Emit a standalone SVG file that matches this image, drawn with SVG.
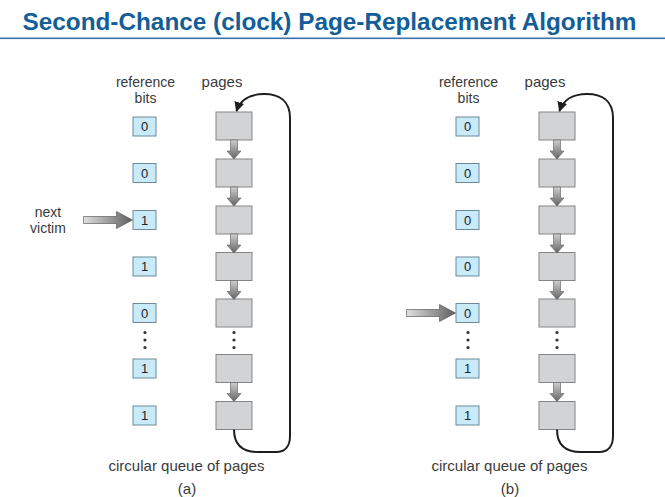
<svg xmlns="http://www.w3.org/2000/svg" width="665" height="497" viewBox="0 0 665 497">
<style>
.title{font-family:"Liberation Sans",Arial,sans-serif;font-weight:bold;font-size:23px;fill:#125e98}
.lbl{font-family:"Liberation Sans",Arial,sans-serif;font-size:15px;fill:#3a3a3a}
.sm{font-size:14px}
.bit{font-family:"Liberation Sans",Arial,sans-serif;font-size:13px;fill:#222;text-anchor:middle}
.ref{fill:#c8eaf9;stroke:#6d8a98;stroke-width:1}
.page{fill:#d2d3d4;stroke:#858585;stroke-width:1}
.loop{fill:none;stroke:#1e1e1e;stroke-width:2}
.dot{fill:#333}
.va{fill:url(#gv);stroke:#5a5a5a;stroke-width:0.6}
.ha{fill:url(#gh);stroke:#4a4a4a;stroke-width:0.6}
.mid{text-anchor:middle}
</style>
<defs>
<linearGradient id="gv" x1="0" y1="0" x2="0" y2="1">
<stop offset="0" stop-color="#cfcfcf"/><stop offset="1" stop-color="#636363"/>
</linearGradient>
<linearGradient id="gh" x1="0" y1="0" x2="1" y2="0">
<stop offset="0" stop-color="#e0e0e0"/><stop offset="1" stop-color="#5e5e5e"/>
</linearGradient>
<path id="varrow" class="va" d="M-3.5,0 h7 v11 h3.5 l-7,8 l-7,-8 h3.5 z"/>
<path id="harrow" class="ha" d="M0,-3.5 h33 v-5 l16,8.5 l-16,8.5 v-5 h-33 z"/>
<marker id="ah" viewBox="0 0 10 10" refX="9" refY="5" markerWidth="5" markerHeight="5" orient="auto" markerUnits="strokeWidth">
<path d="M0,0 L10,5 L0,10 z" fill="#1e1e1e"/>
</marker>
</defs>

<rect x="0" y="0" width="665" height="497" fill="#ffffff"/>

<g id="title">
<text class="title" x="22.5" y="29.5" textLength="614" lengthAdjust="spacingAndGlyphs">Second-Chance (clock) Page-Replacement Algorithm</text>
<rect x="0" y="37.5" width="665" height="1.6" fill="#3d72aa"/>
</g>

<!-- Panel (a) -->
<g id="panel-a">
<g id="a-labels">
<text class="lbl sm mid" x="145.5" y="86.5">reference</text>
<text class="lbl sm mid" x="145.5" y="102.5">bits</text>
<text class="lbl mid" x="222" y="87">pages</text>
<text class="lbl sm mid" x="48" y="217">next</text>
<text class="lbl sm mid" x="48" y="233">victim</text>
<text class="lbl mid" x="186.5" y="471">circular queue of pages</text>
<text class="lbl mid" x="187" y="494">(a)</text>
</g>
<g id="a-bit1"><rect class="ref" x="133" y="117" width="23" height="19"/><text class="bit" x="144.5" y="131">0</text></g>
<g id="a-bit2"><rect class="ref" x="133" y="163.5" width="23" height="19"/><text class="bit" x="144.5" y="177.5">0</text></g>
<g id="a-bit3"><rect class="ref" x="133" y="210.5" width="23" height="19"/><text class="bit" x="144.5" y="224.5">1</text></g>
<g id="a-bit4"><rect class="ref" x="133" y="257" width="23" height="19"/><text class="bit" x="144.5" y="271">1</text></g>
<g id="a-bit5"><rect class="ref" x="133" y="303.5" width="23" height="19"/><text class="bit" x="144.5" y="317.5">0</text></g>
<g id="a-bitdots"><circle class="dot" cx="145" cy="332.5" r="1.6"/><circle class="dot" cx="145" cy="340" r="1.6"/><circle class="dot" cx="145" cy="347.5" r="1.6"/></g>
<g id="a-bit6"><rect class="ref" x="133" y="359" width="23" height="19"/><text class="bit" x="144.5" y="373">1</text></g>
<g id="a-bit7"><rect class="ref" x="133" y="406" width="23" height="19"/><text class="bit" x="144.5" y="420">1</text></g>

<g id="a-page1"><rect class="page" x="216" y="112" width="36" height="28"/></g>
<g id="a-page2"><rect class="page" x="216" y="159" width="36" height="28"/></g>
<g id="a-page3"><rect class="page" x="216" y="206" width="36" height="28"/></g>
<g id="a-page4"><rect class="page" x="216" y="252.5" width="36" height="28"/></g>
<g id="a-page5"><rect class="page" x="216" y="299" width="36" height="28"/></g>
<g id="a-pagedots"><circle class="dot" cx="234" cy="332.5" r="1.6"/><circle class="dot" cx="234" cy="340" r="1.6"/><circle class="dot" cx="234" cy="347.5" r="1.6"/></g>
<g id="a-page6"><rect class="page" x="216" y="354.5" width="36" height="28"/></g>
<g id="a-page7"><rect class="page" x="216" y="401.5" width="36" height="28"/></g>
</g>

<!-- Panel (b) -->
<g id="panel-b">
<g id="b-labels">
<text class="lbl sm mid" x="468.5" y="86.5">reference</text>
<text class="lbl sm mid" x="468.5" y="102.5">bits</text>
<text class="lbl mid" x="545" y="87">pages</text>
<text class="lbl mid" x="509.5" y="471">circular queue of pages</text>
<text class="lbl mid" x="510" y="494">(b)</text>
</g>
<g id="b-bit1"><rect class="ref" x="456" y="117" width="23" height="19"/><text class="bit" x="467.5" y="131">0</text></g>
<g id="b-bit2"><rect class="ref" x="456" y="163.5" width="23" height="19"/><text class="bit" x="467.5" y="177.5">0</text></g>
<g id="b-bit3"><rect class="ref" x="456" y="210.5" width="23" height="19"/><text class="bit" x="467.5" y="224.5">0</text></g>
<g id="b-bit4"><rect class="ref" x="456" y="257" width="23" height="19"/><text class="bit" x="467.5" y="271">0</text></g>
<g id="b-bit5"><rect class="ref" x="456" y="303.5" width="23" height="19"/><text class="bit" x="467.5" y="317.5">0</text></g>
<g id="b-bitdots"><circle class="dot" cx="468" cy="332.5" r="1.6"/><circle class="dot" cx="468" cy="340" r="1.6"/><circle class="dot" cx="468" cy="347.5" r="1.6"/></g>
<g id="b-bit6"><rect class="ref" x="456" y="359" width="23" height="19"/><text class="bit" x="467.5" y="373">1</text></g>
<g id="b-bit7"><rect class="ref" x="456" y="406" width="23" height="19"/><text class="bit" x="467.5" y="420">1</text></g>

<g id="b-page1"><rect class="page" x="539" y="112" width="36" height="28"/></g>
<g id="b-page2"><rect class="page" x="539" y="159" width="36" height="28"/></g>
<g id="b-page3"><rect class="page" x="539" y="206" width="36" height="28"/></g>
<g id="b-page4"><rect class="page" x="539" y="252.5" width="36" height="28"/></g>
<g id="b-page5"><rect class="page" x="539" y="299" width="36" height="28"/></g>
<g id="b-pagedots"><circle class="dot" cx="557" cy="332.5" r="1.6"/><circle class="dot" cx="557" cy="340" r="1.6"/><circle class="dot" cx="557" cy="347.5" r="1.6"/></g>
<g id="b-page6"><rect class="page" x="539" y="354.5" width="36" height="28"/></g>
<g id="b-page7"><rect class="page" x="539" y="401.5" width="36" height="28"/></g>
</g>

<g id="connectors">
<!-- (a) page chain -->
<use href="#varrow" x="234" y="140"/>
<use href="#varrow" x="234" y="187"/>
<use href="#varrow" x="234" y="234"/>
<use href="#varrow" x="234" y="280.5"/>
<use href="#varrow" x="234" y="382.5"/>
<path class="loop" marker-end="url(#ah)" d="M234,429.5 C234,446 244,452 258,452 L276,452 C285,452 290,446 290,436 L290,118 C290,101 279,94 264,94 C250,94 240,100 236.5,111"/>
<use href="#harrow" x="83.5" y="220"/>
<!-- (b) page chain -->
<use href="#varrow" x="557" y="140"/>
<use href="#varrow" x="557" y="187"/>
<use href="#varrow" x="557" y="234"/>
<use href="#varrow" x="557" y="280.5"/>
<use href="#varrow" x="557" y="382.5"/>
<path class="loop" marker-end="url(#ah)" d="M557,429.5 C557,446 567,452 581,452 L599,452 C608,452 613,446 613,436 L613,118 C613,101 602,94 587,94 C573,94 563,100 559.5,111"/>
<use href="#harrow" x="406.5" y="313"/>
</g>
</svg>
